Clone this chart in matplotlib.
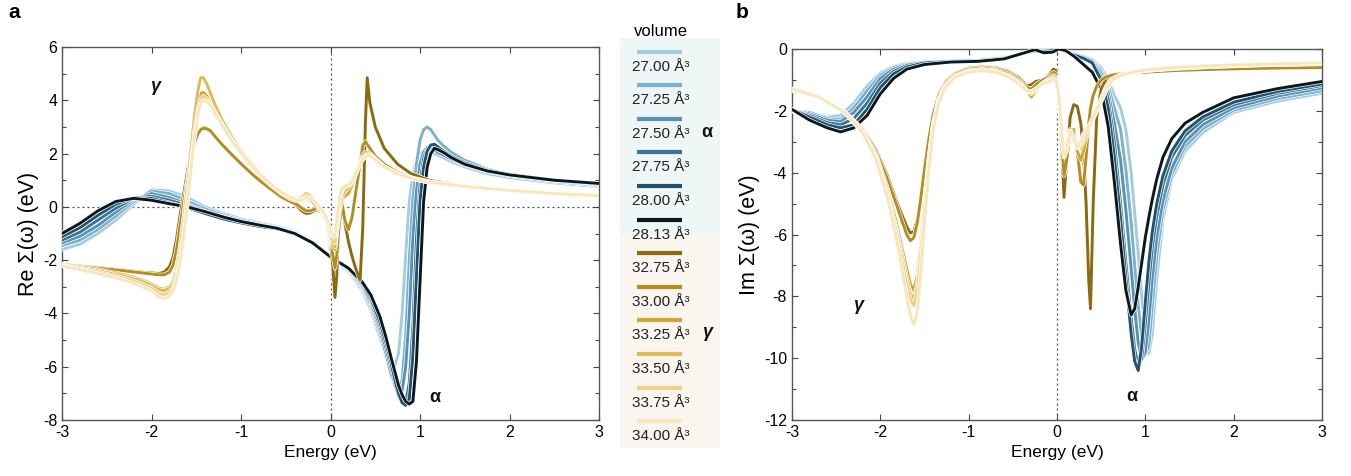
import matplotlib.pyplot as plt
import matplotlib.patheffects as pe
from matplotlib.patches import Rectangle
from matplotlib.ticker import MultipleLocator

plt.rcParams["font.family"] = ["Liberation Sans", "DejaVu Sans"]
plt.rcParams["axes.unicode_minus"] = False

# volumes (A^3) and colours of the two phases
volumes_alpha = ["27.00", "27.25", "27.50", "27.75", "28.00", "28.13"]
volumes_gamma = ["32.75", "33.00", "33.25", "33.50", "33.75", "34.00"]
colors_alpha = ["#a3cddf", "#7ab2ce", "#5592b5", "#3a7293", "#22526c", "#0b1820"]
colors_gamma = ["#8c6a0e", "#b58c1e", "#cfa535", "#dfbb57", "#eed189", "#f8e7bd"]

# ---- panel a: Re Sigma, alpha volumes ----
energy_a_re = [-3.0, -2.8, -2.6, -2.4, -2.2, -2.0, -1.8, -1.6, -1.4, -1.2, -1.0, -0.8, -0.6, -0.4,
               -0.2, 0.0, 0.2, 0.35, 0.45, 0.55, 0.62, 0.68, 0.72, 0.76, 0.8, 0.84, 0.88, 0.92,
               0.96, 1.0, 1.04, 1.08, 1.12, 1.16, 1.2, 1.26, 1.35, 1.5, 1.75, 2.0, 2.5, 3.0]
re_27_00 = [-1.6, -1.4, -1.0, -0.5, 0.1, 0.65, 0.6, 0.35, 0.0, -0.25, -0.45, -0.6, -0.72, -0.92,
            -1.28, -1.9, -2.45, -3.1, -3.85, -4.9, -5.6, -5.9, -5.95, -5.5, -4.0, -1.8, 0.2, 1.2,
            1.75, 2.0, 2.1, 2.1, 2.05, 2.0, 1.95, 1.85, 1.7, 1.5, 1.25, 1.1, 0.9, 0.76]
re_27_25 = [-1.45, -1.25, -0.85, -0.35, 0.2, 0.6, 0.5, 0.22, -0.08, -0.32, -0.5, -0.64, -0.75, -0.95,
            -1.3, -1.9, -2.42, -3.0, -3.7, -4.75, -5.6, -6.35, -6.75, -6.9, -6.5, -4.8, -2.0, 0.3,
            1.6, 2.5, 2.9, 3.0, 2.9, 2.7, 2.5, 2.3, 2.05, 1.75, 1.42, 1.22, 0.97, 0.8]
re_27_50 = [-1.35, -1.1, -0.7, -0.2, 0.28, 0.5, 0.35, 0.1, -0.17, -0.38, -0.55, -0.68, -0.78, -0.97,
            -1.32, -1.88, -2.38, -2.95, -3.6, -4.6, -5.5, -6.3, -6.7, -6.95, -6.9, -6.0, -4.0, -1.2,
            0.6, 1.6, 2.05, 2.25, 2.25, 2.15, 2.05, 1.95, 1.8, 1.58, 1.33, 1.17, 0.95, 0.82]
re_27_75 = [-1.25, -0.95, -0.5, -0.05, 0.32, 0.4, 0.25, 0.05, -0.22, -0.42, -0.58, -0.71, -0.8, -0.99,
            -1.34, -1.88, -2.35, -2.9, -3.5, -4.45, -5.3, -6.1, -6.65, -7.1, -7.35, -7.35, -6.6, -4.5,
            -1.2, 0.9, 1.8, 2.2, 2.3, 2.25, 2.15, 2.05, 1.88, 1.63, 1.36, 1.2, 0.98, 0.85]
re_28_00 = [-1.12, -0.78, -0.32, 0.1, 0.34, 0.32, 0.15, -0.03, -0.25, -0.45, -0.6, -0.73, -0.82, -1.0,
            -1.36, -1.88, -2.32, -2.85, -3.4, -4.3, -5.1, -5.9, -6.5, -7.0, -7.35, -7.45, -7.2, -5.6,
            -2.6, 0.2, 1.5, 2.1, 2.32, 2.35, 2.25, 2.1, 1.9, 1.65, 1.38, 1.22, 1.0, 0.88]
re_28_13 = [-1.0, -0.62, -0.15, 0.2, 0.32, 0.25, 0.12, 0.0, -0.18, -0.38, -0.55, -0.68, -0.8, -1.0,
            -1.35, -1.88, -2.3, -2.8, -3.3, -4.1, -4.9, -5.7, -6.2, -6.7, -7.05, -7.3, -7.4, -7.3,
            -5.8, -2.8, 0.2, 1.5, 2.0, 2.2, 2.15, 2.05, 1.85, 1.6, 1.35, 1.2, 1.0, 0.88]

# ---- panel a: Re Sigma, gamma volumes ----
energy_g_re = [-3.0, -2.6, -2.3, -2.1, -2.0, -1.92, -1.86, -1.8, -1.76, -1.72, -1.68, -1.64, -1.6,
               -1.56, -1.52, -1.48, -1.45, -1.42, -1.38, -1.34, -1.28, -1.2, -1.1, -1.0, -0.85, -0.7,
               -0.55, -0.45, -0.38, -0.32, -0.27, -0.22, -0.16, -0.1, -0.05, -0.01, 0.02, 0.05, 0.07,
               0.1, 0.13, 0.16, 0.2, 0.24, 0.28, 0.33, 0.36, 0.39, 0.41, 0.44, 0.5, 0.6, 0.75, 0.9,
               1.1, 1.5, 2.0, 2.5, 3.0]
re_32_75 = [-2.15, -2.28, -2.38, -2.45, -2.48, -2.5, -2.45, -2.25, -1.9, -1.2,
            -0.3, 0.5, 1.3, 2.0, 2.5, 2.8, 2.92, 2.98, 2.95, 2.85,
            2.6, 2.3, 1.95, 1.62, 1.15, 0.75, 0.35, 0.2, 0.05, -0.15,
            -0.25, -0.22, -0.1, -0.2, -0.5, -1.1, -2.0, -3.4, -2.6, 0.4,
            0.2, -0.6, -1.3, -1.85, -2.3, -2.75, -0.8, 3.2, 4.85, 3.9,
            3.0, 2.2, 1.6, 1.25, 1.0, 0.78, 0.62, 0.5, 0.38]
re_33_00 = [-2.15, -2.3, -2.4, -2.48, -2.52, -2.55, -2.55, -2.45, -2.2, -1.6,
            -0.7, 0.2, 1.0, 1.8, 2.4, 2.75, 2.9, 2.95, 2.93, 2.85,
            2.6, 2.3, 1.95, 1.62, 1.15, 0.75, 0.38, 0.2, 0.1, -0.05,
            -0.15, -0.15, -0.05, -0.15, -0.45, -1.0, -1.7, -2.3, -1.8, -0.6,
            0.1, -0.5, -0.85, -0.4, 0.5, 1.6, 2.3, 2.45, 2.35, 2.2,
            1.9, 1.6, 1.3, 1.1, 0.95, 0.78, 0.62, 0.5, 0.38]
re_33_25 = [-2.15, -2.35, -2.55, -2.75, -2.9, -3.05, -3.1, -3.0, -2.8, -2.3,
            -1.5, -0.4, 0.8, 2.0, 3.1, 3.9, 4.25, 4.3, 4.15, 3.9,
            3.5, 3.0, 2.45, 2.0, 1.4, 0.9, 0.5, 0.3, 0.22, 0.25,
            0.35, 0.25, 0.05, -0.2, -0.5, -1.0, -1.5, -1.6, -1.0, -0.2,
            0.3, 0.4, 0.5, 0.8, 1.2, 1.7, 1.95, 2.05, 2.05, 2.0,
            1.8, 1.5, 1.25, 1.07, 0.93, 0.78, 0.62, 0.5, 0.4]
re_33_50 = [-2.18, -2.4, -2.6, -2.8, -2.95, -3.1, -3.15, -3.05, -2.85, -2.4,
            -1.6, -0.5, 0.8, 2.1, 3.4, 4.4, 4.85, 4.85, 4.6, 4.25,
            3.75, 3.2, 2.6, 2.1, 1.5, 0.95, 0.55, 0.35, 0.3, 0.35,
            0.5, 0.4, 0.15, -0.15, -0.45, -0.95, -1.4, -1.5, -0.9, -0.1,
            0.4, 0.6, 0.7, 0.9, 1.25, 1.65, 1.85, 1.95, 2.0, 1.98,
            1.8, 1.5, 1.25, 1.07, 0.93, 0.78, 0.62, 0.5, 0.4]
re_33_75 = [-2.2, -2.45, -2.68, -2.9, -3.05, -3.25, -3.3, -3.2, -3.0, -2.6,
            -1.9, -0.9, 0.3, 1.6, 2.8, 3.7, 4.05, 4.15, 4.05, 3.85,
            3.5, 3.05, 2.5, 2.05, 1.45, 0.95, 0.55, 0.35, 0.28, 0.3,
            0.42, 0.35, 0.15, -0.12, -0.4, -0.85, -1.3, -1.35, -0.7, 0.2,
            0.6, 0.75, 0.8, 0.95, 1.25, 1.6, 1.8, 1.9, 1.95, 1.95,
            1.8, 1.5, 1.25, 1.07, 0.93, 0.77, 0.62, 0.5, 0.4]
re_34_00 = [-2.22, -2.5, -2.75, -3.0, -3.15, -3.38, -3.45, -3.35, -3.15, -2.75,
            -2.1, -1.1, 0.1, 1.4, 2.6, 3.5, 3.9, 4.0, 3.95, 3.8,
            3.45, 3.0, 2.48, 2.05, 1.45, 0.95, 0.55, 0.35, 0.25, 0.25,
            0.35, 0.3, 0.15, -0.1, -0.35, -0.75, -1.1, -1.1, -0.5, 0.35,
            0.7, 0.8, 0.82, 0.95, 1.25, 1.6, 1.78, 1.88, 1.92, 1.93,
            1.78, 1.5, 1.25, 1.07, 0.93, 0.77, 0.62, 0.5, 0.42]

# ---- panel b: Im Sigma, alpha volumes ----
energy_a_im = [-3.0, -2.8, -2.6, -2.45, -2.3, -2.15, -2.0, -1.85, -1.7, -1.5, -1.2, -0.9, -0.6, -0.4,
               -0.25, -0.15, -0.05, 0.02, 0.1, 0.2, 0.3, 0.4, 0.5, 0.58, 0.65, 0.72, 0.78, 0.84,
               0.88, 0.92, 0.96, 1.0, 1.04, 1.08, 1.13, 1.2, 1.3, 1.45, 1.65, 2.0, 2.5, 3.0]
im_27_00 = [-2.02, -2.05, -2.2, -2.15, -1.75, -1.2, -0.78, -0.56, -0.45, -0.4,
            -0.37, -0.34, -0.26, -0.15, -0.08, -0.05, -0.03, 0.0, -0.08, -0.15,
            -0.22, -0.32, -0.6, -1.0, -1.5, -1.9, -2.6, -4.0, -5.3, -6.6,
            -8.0, -9.2, -9.85, -9.2, -7.4, -5.5, -4.2, -3.3, -2.7, -2.05,
            -1.68, -1.43]
im_27_25 = [-2.0, -2.05, -2.25, -2.28, -1.9, -1.35, -0.85, -0.6, -0.47, -0.41,
            -0.38, -0.35, -0.27, -0.15, -0.08, -0.05, -0.03, 0.0, -0.08, -0.16,
            -0.24, -0.35, -0.7, -1.2, -1.9, -2.6, -3.9, -5.6, -7.0, -8.3,
            -9.3, -9.9, -9.6, -8.3, -6.7, -5.2, -4.05, -3.15, -2.58, -1.98,
            -1.6, -1.35]
im_27_50 = [-1.98, -2.1, -2.3, -2.35, -2.05, -1.55, -0.95, -0.65, -0.5, -0.42,
            -0.39, -0.36, -0.28, -0.15, -0.07, -0.05, -0.03, 0.0, -0.08, -0.17,
            -0.25, -0.37, -0.8, -1.4, -2.4, -3.6, -5.2, -7.1, -8.4, -9.5,
            -10.05, -9.8, -8.8, -7.4, -6.1, -4.9, -3.85, -3.0, -2.45, -1.9,
            -1.52, -1.26]
im_27_75 = [-1.97, -2.15, -2.38, -2.45, -2.25, -1.75, -1.1, -0.72, -0.53, -0.43,
            -0.4, -0.37, -0.3, -0.15, -0.06, -0.06, -0.04, 0.0, -0.08, -0.18,
            -0.27, -0.4, -0.9, -1.6, -3.0, -5.0, -6.9, -8.7, -9.7, -10.25,
            -10.0, -8.9, -7.6, -6.4, -5.4, -4.4, -3.5, -2.8, -2.3, -1.8,
            -1.43, -1.18]
im_28_00 = [-1.95, -2.2, -2.45, -2.55, -2.45, -1.95, -1.25, -0.8, -0.58, -0.45,
            -0.4, -0.38, -0.3, -0.15, -0.05, -0.08, -0.05, 0.0, -0.08, -0.2,
            -0.3, -0.45, -1.0, -1.9, -3.5, -5.5, -7.4, -9.2, -10.1, -10.4,
            -9.6, -8.2, -6.9, -5.9, -5.0, -4.1, -3.3, -2.65, -2.2, -1.72,
            -1.37, -1.13]
im_28_13 = [-1.95, -2.3, -2.55, -2.68, -2.55, -2.15, -1.45, -0.95, -0.65, -0.5,
            -0.42, -0.4, -0.32, -0.15, -0.02, -0.12, -0.1, 0.0, -0.05, -0.25,
            -0.5, -0.75, -1.3, -2.5, -4.3, -6.3, -7.8, -8.6, -8.4, -7.7,
            -6.9, -6.1, -5.45, -4.85, -4.2, -3.5, -2.9, -2.4, -2.05, -1.58,
            -1.28, -1.05]

# ---- panel b: Im Sigma, gamma volumes ----
energy_g_im = [-3.0, -2.7, -2.4, -2.2, -2.05, -1.92, -1.82, -1.75, -1.7, -1.66, -1.62, -1.58, -1.54,
               -1.5, -1.45, -1.4, -1.34, -1.26, -1.15, -1.0, -0.85, -0.7, -0.55, -0.42, -0.34, -0.29,
               -0.24, -0.16, -0.09, -0.04, -0.01, 0.02, 0.05, 0.08, 0.11, 0.15, 0.19, 0.23, 0.27, 0.3,
               0.33, 0.36, 0.38, 0.41, 0.45, 0.5, 0.56, 0.63, 0.72, 0.85, 1.0, 1.3, 1.7, 2.2, 2.6, 3.0]
im_32_75 = [-1.35, -1.55, -2.05, -2.6, -3.25, -4.1, -4.9, -5.4, -5.75, -5.95,
            -5.9, -5.5, -4.8, -3.9, -2.9, -2.1, -1.5, -1.05, -0.8, -0.65,
            -0.58, -0.6, -0.72, -0.95, -1.2, -1.15, -1.05, -1.0, -0.85, -0.65,
            -0.7, -1.4, -3.0, -4.8, -3.6, -2.2, -1.8, -1.85, -2.4, -3.3,
            -5.0, -7.5, -8.4, -5.0, -2.2, -1.3, -0.95, -0.85, -0.8, -0.77,
            -0.75, -0.7, -0.66, -0.63, -0.61, -0.6]
im_33_00 = [-1.35, -1.55, -2.05, -2.6, -3.3, -4.2, -5.0, -5.6, -6.0, -6.2,
            -6.1, -5.6, -4.8, -3.9, -2.9, -2.1, -1.5, -1.05, -0.78, -0.62,
            -0.58, -0.62, -0.75, -1.0, -1.25, -1.3, -1.15, -1.0, -0.9, -0.75,
            -0.8, -1.5, -2.8, -4.1, -3.6, -2.7, -2.6, -3.3, -4.3, -4.4,
            -3.5, -2.4, -1.9, -1.5, -1.2, -1.0, -0.9, -0.84, -0.8, -0.77,
            -0.75, -0.7, -0.66, -0.63, -0.61, -0.6]
im_33_25 = [-1.33, -1.55, -2.05, -2.65, -3.4, -4.5, -5.6, -6.5, -7.1, -7.6,
            -7.8, -7.3, -6.2, -4.9, -3.5, -2.4, -1.6, -1.1, -0.8, -0.65,
            -0.62, -0.66, -0.8, -1.05, -1.35, -1.55, -1.35, -1.1, -0.95, -0.85,
            -0.9, -1.6, -2.6, -3.4, -3.2, -2.6, -2.7, -3.3, -3.6, -3.3,
            -2.9, -2.6, -2.4, -2.2, -2.0, -1.6, -1.2, -0.95, -0.82, -0.75,
            -0.7, -0.64, -0.58, -0.53, -0.5, -0.48]
im_33_50 = [-1.32, -1.55, -2.05, -2.65, -3.45, -4.6, -5.8, -6.7, -7.4, -7.9,
            -8.1, -7.6, -6.4, -5.0, -3.6, -2.45, -1.65, -1.15, -0.85, -0.7,
            -0.66, -0.7, -0.85, -1.1, -1.35, -1.45, -1.3, -1.1, -1.0, -0.9,
            -0.95, -1.5, -2.4, -3.1, -3.0, -2.7, -2.8, -3.1, -3.2, -3.0,
            -2.8, -2.6, -2.45, -2.25, -2.0, -1.65, -1.25, -1.0, -0.85, -0.77,
            -0.7, -0.63, -0.57, -0.52, -0.49, -0.47]
im_33_75 = [-1.3, -1.55, -2.05, -2.7, -3.5, -4.7, -5.9, -6.9, -7.6, -8.1,
            -8.3, -7.8, -6.6, -5.2, -3.7, -2.5, -1.7, -1.2, -0.88, -0.72,
            -0.68, -0.72, -0.88, -1.12, -1.35, -1.4, -1.3, -1.12, -1.02, -0.95,
            -1.0, -1.55, -2.5, -3.3, -3.1, -2.65, -2.9, -3.2, -3.1, -2.9,
            -2.7, -2.55, -2.45, -2.25, -2.0, -1.7, -1.3, -1.02, -0.86, -0.76,
            -0.69, -0.62, -0.56, -0.51, -0.48, -0.46]
im_34_00 = [-1.28, -1.55, -2.05, -2.7, -3.55, -4.8, -6.1, -7.2, -8.0, -8.6,
            -8.9, -8.5, -7.2, -5.6, -3.9, -2.6, -1.75, -1.22, -0.9, -0.75,
            -0.7, -0.75, -0.9, -1.15, -1.35, -1.38, -1.28, -1.12, -1.05, -0.98,
            -1.0, -1.5, -2.5, -3.5, -3.3, -2.65, -2.9, -3.2, -3.0, -2.75,
            -2.6, -2.5, -2.4, -2.2, -1.95, -1.65, -1.3, -1.0, -0.85, -0.75,
            -0.68, -0.6, -0.54, -0.5, -0.47, -0.45]

re_alpha = [re_27_00, re_27_25, re_27_50, re_27_75, re_28_00, re_28_13]
re_gamma = [re_32_75, re_33_00, re_33_25, re_33_50, re_33_75, re_34_00]
im_alpha = [im_27_00, im_27_25, im_27_50, im_27_75, im_28_00, im_28_13]
im_gamma = [im_32_75, im_33_00, im_33_25, im_33_50, im_33_75, im_34_00]

fig = plt.figure(figsize=(13.51, 4.76), dpi=100)
ax1 = fig.add_axes([0.0459, 0.1176, 0.3975, 0.7836])
ax2 = fig.add_axes([0.5862, 0.1176, 0.3923, 0.7794])
axl = fig.add_axes([620 / 1351, 28 / 476, 100 / 1351, 410 / 476])

halo = [pe.Stroke(linewidth=3.1, foreground="white"), pe.Normal()]


def draw_group(ax, x, curves, colors):
    for y, c in zip(curves, colors):
        ax.plot(x, y, color=c, lw=2.1, solid_joinstyle="round", path_effects=halo, zorder=3)


# alpha: light to dark, gamma: dark to light on top
draw_group(ax1, energy_a_re, re_alpha, colors_alpha)
draw_group(ax1, energy_g_re, re_gamma, colors_gamma)
draw_group(ax2, energy_a_im, im_alpha, colors_alpha)
draw_group(ax2, energy_g_im, im_gamma, colors_gamma)

dots = dict(color="#444444", lw=0.9, ls=(0, (1.5, 2.5)), zorder=1)
ax1.axvline(0, **dots)
ax1.axhline(0, **dots)
ax2.axvline(0, **dots)

for ax in (ax1, ax2):
    ax.set_xlim(-3, 3)
    ax.set_xticks(range(-3, 4))
    ax.yaxis.set_minor_locator(MultipleLocator(1))
    ax.tick_params(which="both", direction="in", top=True, right=True, labelsize=11.5,
                   width=0.8, color="#444444")
    ax.tick_params(which="major", length=4)
    ax.tick_params(which="minor", length=3)
    for s in ax.spines.values():
        s.set_color("#555555")
        s.set_linewidth(1.0)
    ax.set_xlabel("Energy (eV)", fontsize=12.5, labelpad=4)

ax1.set_ylim(-8, 6)
ax1.set_yticks(range(-8, 7, 2))
ax1.set_ylabel("Re Σ(ω) (eV)", fontsize=15.5, labelpad=3)
ax2.set_ylim(-12, 0)
ax2.set_yticks(range(-12, 1, 2))
ax2.set_ylabel("Im Σ(ω) (eV)", fontsize=15.5, labelpad=3)

greek = dict(fontsize=13, fontweight="bold", ha="center", va="center", color="#111111")
ax1.text(-1.96, 4.5, "γ", style="italic", **greek)
ax1.text(1.17, -7.17, "α", **greek)
ax2.text(-2.25, -8.3, "γ", style="italic", **greek)
ax2.text(0.85, -11.25, "α", **greek)

# legend column
axl.set_xlim(0, 100)
axl.set_ylim(448, 38)
axl.axis("off")
axl.add_patch(Rectangle((0, 38), 100, 197, color="#eef7f6", zorder=0))
axl.add_patch(Rectangle((0, 235), 100, 213, color="#faf5ee", zorder=0))
labels = volumes_alpha + volumes_gamma
colors = colors_alpha + colors_gamma
for i, (vol, c) in enumerate(zip(labels, colors)):
    y = 51.7 + i * 33.6
    axl.plot([17, 62], [y, y], color=c, lw=3, solid_capstyle="butt")
    axl.text(12, y + 15, vol + " Å³", fontsize=11, ha="left", va="center", color="#222222")
axl.text(87, 133, "α", **greek)
axl.text(87, 333, "γ", style="italic", **greek)
fig.text(661 / 1351, 1 - 31.7 / 476, "volume", fontsize=12, ha="center", va="center")

fig.text(14 / 1351, 1 - 13 / 476, "a", fontsize=15, fontweight="bold", ha="center", va="center")
fig.text(742 / 1351, 1 - 13 / 476, "b", fontsize=15, fontweight="bold", ha="center", va="center")

fig.savefig("out.png", dpi=100)
